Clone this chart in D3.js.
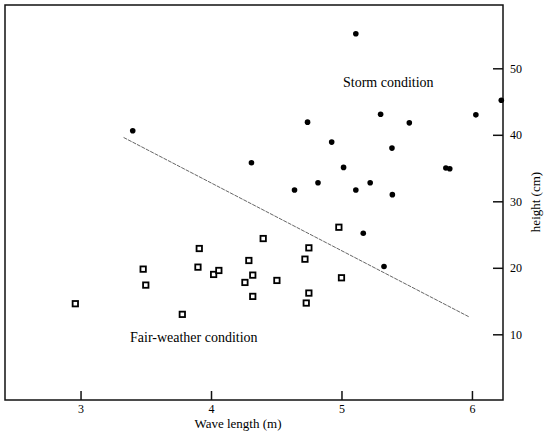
<!DOCTYPE html>
<html>
<head>
<meta charset="utf-8">
<script src="https://cdn.jsdelivr.net/npm/d3@7"></script>
<style>
  body { margin: 0; background: #fff; }
  svg text { font-family: "Liberation Serif", "DejaVu Serif", serif; fill: #000; }
</style>
</head>
<body>
<div id="chart"></div>
<script>
// storm condition (filled dots)
const stormWave = [3.40, 5.11, 6.225, 4.74, 5.30, 5.52, 6.03, 4.925, 5.387, 4.31, 5.016, 5.80, 5.83, 4.82, 5.22, 4.64, 5.11, 5.39, 5.167, 5.326];
const stormHeight = [40.6, 55.2, 45.2, 41.9, 43.1, 41.8, 43.0, 38.9, 38.0, 35.8, 35.1, 35.0, 34.9, 32.8, 32.8, 31.7, 31.7, 31.0, 25.2, 20.2];

// fair-weather condition (open squares)
const fairWave = [2.96, 3.48, 3.50, 3.78, 3.91, 3.90, 4.02, 4.06, 4.40, 4.29, 4.32, 4.26, 4.32, 4.505, 4.75, 4.72, 4.75, 4.73, 4.98, 5.00];
const fairHeight = [14.6, 19.8, 17.4, 13.0, 22.9, 20.1, 19.0, 19.6, 24.4, 21.1, 18.9, 17.8, 15.7, 18.1, 23.0, 21.3, 16.2, 14.7, 26.1, 18.5];

// dividing line
const lineWave = [3.33, 5.975];
const lineHeight = [39.6, 12.65];

const xTicks = [3, 4, 5, 6];
const yTicks = [10, 20, 30, 40, 50];

const width = 544;
const height = 437;
const frame = { left: 5, top: 5, right: 503, bottom: 400 };

const svg = d3.select('#chart')
    .append('svg')
    .attr('width', width)
    .attr('height', height);

const x = d3.scaleLinear()
    .domain([2.421, 6.238])
    .range([frame.left, frame.right]);

const y = d3.scaleLinear()
    .domain([0, 59.52])
    .range([400.8, 5]);

// frame
svg.append('rect')
    .attr('x', frame.left)
    .attr('y', frame.top)
    .attr('width', frame.right - frame.left)
    .attr('height', frame.bottom - frame.top)
    .style('fill', 'none')
    .style('stroke', '#111')
    .style('stroke-width', 1.5);

// bottom axis, ticks pointing inward
const xAxis = svg.append('g')
    .attr('transform', `translate(0, ${frame.bottom})`)
    .call(d3.axisBottom(x)
        .tickValues(xTicks)
        .tickSizeInner(-9)
        .tickSizeOuter(0)
        .tickPadding(4)
        .tickFormat(d3.format('d')));
xAxis.select('.domain').remove();
xAxis.selectAll('line').style('stroke', '#111').style('stroke-width', 1.5);
xAxis.selectAll('text').style('font-size', '12px').style('font-family', '"Liberation Serif", serif');

// right axis, ticks pointing inward
const yAxis = svg.append('g')
    .attr('transform', `translate(${frame.right}, 0)`)
    .call(d3.axisRight(y)
        .tickValues(yTicks)
        .tickSizeInner(-10)
        .tickSizeOuter(0)
        .tickPadding(7)
        .tickFormat(d3.format('d')));
yAxis.select('.domain').remove();
yAxis.selectAll('line').style('stroke', '#111').style('stroke-width', 1.5);
yAxis.selectAll('text').style('font-size', '12px').style('font-family', '"Liberation Serif", serif');

// dividing line
svg.append('line')
    .attr('x1', x(lineWave[0]))
    .attr('y1', y(lineHeight[0]))
    .attr('x2', x(lineWave[1]))
    .attr('y2', y(lineHeight[1]))
    .style('stroke', '#555')
    .style('stroke-width', 0.9)
    .style('stroke-dasharray', '4,1');

// storm points
svg.selectAll('circle.storm')
    .data(stormWave.map((w, i) => ({ w, h: stormHeight[i] })))
    .enter().append('circle')
    .attr('class', 'storm')
    .attr('cx', d => x(d.w))
    .attr('cy', d => y(d.h))
    .attr('r', 2.8)
    .style('fill', '#000');

// fair-weather points
const sq = 5.4;
svg.selectAll('rect.fair')
    .data(fairWave.map((w, i) => ({ w, h: fairHeight[i] })))
    .enter().append('rect')
    .attr('class', 'fair')
    .attr('x', d => x(d.w) - sq / 2)
    .attr('y', d => y(d.h) - sq / 2)
    .attr('width', sq)
    .attr('height', sq)
    .style('fill', '#fff')
    .style('stroke', '#000')
    .style('stroke-width', 1.8);

// annotations
svg.append('text')
    .attr('x', 343)
    .attr('y', 87)
    .style('font-size', '14px')
    .text('Storm condition');

svg.append('text')
    .attr('x', 130)
    .attr('y', 342)
    .style('font-size', '14px')
    .text('Fair-weather condition');

// axis titles
svg.append('text')
    .attr('x', 238)
    .attr('y', 428)
    .attr('text-anchor', 'middle')
    .style('font-size', '13px')
    .text('Wave length (m)');

svg.append('text')
    .attr('transform', 'translate(540, 202) rotate(-90)')
    .attr('text-anchor', 'middle')
    .style('font-size', '13px')
    .text('height (cm)');
</script>
</body>
</html>
